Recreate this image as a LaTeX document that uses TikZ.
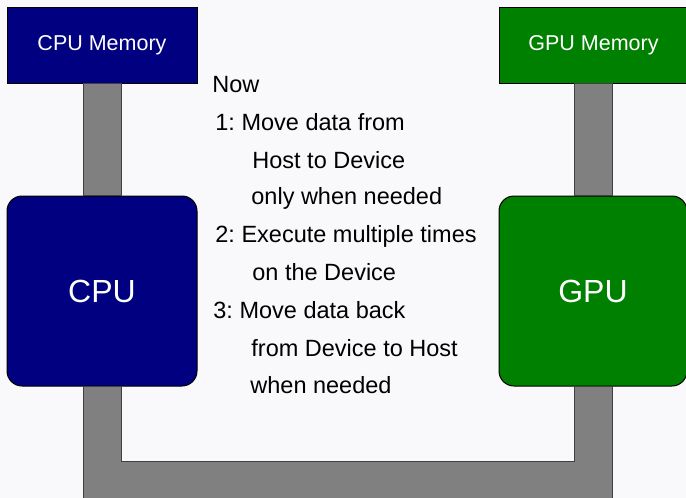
\documentclass[tikz,border=0pt]{standalone}
\usepackage{fontspec}
\setmainfont{Liberation Sans}
\usetikzlibrary{positioning}
\definecolor{cpublue}{RGB}{0,0,128}
\definecolor{gpugreen}{RGB}{0,128,0}
\definecolor{busgray}{RGB}{128,128,128}
\definecolor{paper}{RGB}{249,249,251}
\frenchspacing

\begin{document}
\begin{tikzpicture}[x=0.5pt,y=-0.5pt,
	membox/.style={draw=black, line width=0.5pt, minimum height=38pt, inner sep=0pt, text=white, font=\fontsize{10.75}{13}\selectfont},
	procbox/.style={draw=black, line width=0.5pt, rounded corners=7.5pt, minimum height=95pt, inner sep=0pt, text=white, font=\fontsize{16}{19}\selectfont},
	bus/.style={fill=busgray, draw=black!75, line width=0.5pt},
	stepline/.style={anchor=base west, inner sep=0pt, font=\fontsize{11.75}{14}\selectfont}]
						\fill[paper] (0,0) rectangle (686,498);
						\useasboundingbox (0,0) rectangle (686,498);
						
						\node[membox, fill=cpublue, minimum width=95pt] (cpumem) at (102,45) {CPU Memory};
						\node[membox, fill=gpugreen, minimum width=94.5pt] (gpumem) at (593.5,45) {GPU Memory};
						
						\node[procbox, fill=cpublue, minimum width=95pt] (cpu) at (102,291) {CPU};
						\node[procbox, fill=gpugreen, minimum width=94pt] (gpu) at (593,291) {GPU};
						
						% links to memory
						\path[bus] ([xshift=-9.5pt]cpumem.south) rectangle ([xshift=9.5pt]cpu.north);
						\path[bus] ([xshift=-9.5pt]gpumem.south) rectangle ([xshift=9.5pt]gpu.north);
						
						% bus between CPU and GPU
						\path[bus] ([xshift=-9.5pt]cpu.south) -- ++(0,130) -| ([xshift=9.5pt]gpu.south)
							-- ([xshift=-9.5pt]gpu.south) |- ([xshift=9.5pt,yshift=-37.5pt]cpu.south)
							-- ([xshift=9.5pt]cpu.south) -- cycle;
						
						\foreach \lx/\ly/\txt [count=\i] in {212/92/Now, 215/130/{1: Move data from}, 252/168/{Host to Device}, 251/204/{only when needed}, 215/242/{2: Execute multiple times}, 252/280/{on the Device}, 213/318/{3: Move data back}, 251/356/{from Device to Host}, 250/393/{when needed}}
							\node[stepline] (line\i) at (\lx,\ly) {\txt};
					\end{tikzpicture}
\end{document}
